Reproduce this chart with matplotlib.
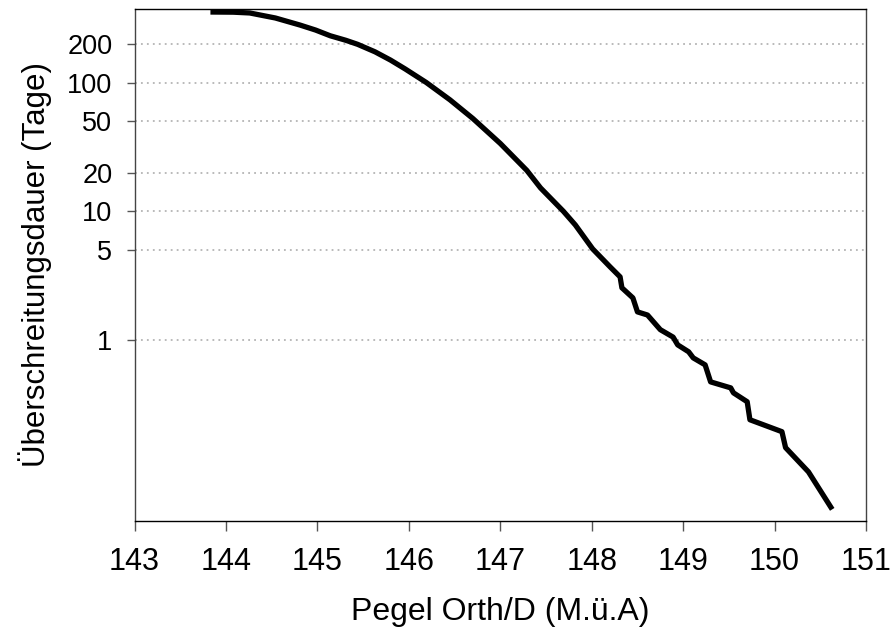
import numpy as np
import matplotlib
matplotlib.use("Agg")
import matplotlib.pyplot as plt
from matplotlib.ticker import NullLocator, FixedLocator, FixedFormatter

plt.rcParams['font.family'] = ['Liberation Sans', 'DejaVu Sans']

# gauge level (m a.s.l.) and exceedance duration (days)
pegel = [143.83, 144.08, 144.26, 144.54, 144.81, 144.98, 145.14, 145.31,
         145.44, 145.63, 145.80, 145.96, 146.19, 146.45, 146.70, 147.00,
         147.29, 147.44, 147.69, 147.82, 148.01, 148.20, 148.31, 148.33,
         148.45, 148.50, 148.61, 148.75, 148.89, 148.94, 149.06, 149.11,
         149.24, 149.30, 149.52, 149.55, 149.70, 149.73, 150.08, 150.12,
         150.37, 150.63]
dauer = [355, 354, 349, 319, 281, 257, 232, 214,
         199, 174, 150, 128, 100.5, 73.6, 52.7, 33.7,
         20.8, 15.2, 10, 7.84, 5.1, 3.70, 3.09, 2.54,
         2.12, 1.65, 1.56, 1.20, 1.05, 0.914, 0.807, 0.724,
         0.639, 0.471, 0.423, 0.387, 0.330, 0.239, 0.193, 0.145,
         0.094, 0.048]

xticks = [143, 144, 145, 146, 147, 148, 149, 150, 151]
yticks = [1, 5, 10, 20, 50, 100, 200]
ylabels = ['1', '5', '10', '20', '50', '100', '200']

fig = plt.figure(figsize=(8.91, 6.40), dpi=100)
ax = fig.add_axes([0.151, 0.186, 0.821, 0.800])

ax.plot(pegel, dauer, color='black', lw=3.8, solid_joinstyle='round',
        solid_capstyle='butt')

ax.set_yscale('log')
ax.set_xlim(143, 151)
ax.set_ylim(0.039, 375)

ax.yaxis.set_major_locator(FixedLocator(yticks))
ax.yaxis.set_major_formatter(FixedFormatter(ylabels))
ax.yaxis.set_minor_locator(NullLocator())
ax.set_xticks(xticks)
ax.set_xticklabels([str(t) for t in xticks])

for v in yticks:
    ax.axhline(v, color='#b4b4b4', lw=1.3, ls=(0, (1, 2.3)), zorder=0)

ax.tick_params(axis='x', direction='out', length=7, width=1, color='#555555',
               labelsize=22, pad=12)
ax.tick_params(axis='y', direction='out', length=6, width=1, color='#555555',
               labelsize=19.5, pad=10)

for s in ax.spines.values():
    s.set_color('#444444')
    s.set_linewidth(1)
ax.spines['bottom'].set_color('black')
ax.spines['top'].set_color('black')

ax.set_xlabel('Pegel Orth/D (M.ü.A)', fontsize=23, labelpad=14)
ax.set_ylabel('Überschreitungsdauer (Tage)', fontsize=22.5, labelpad=11)

fig.savefig('out.png', dpi=100)
